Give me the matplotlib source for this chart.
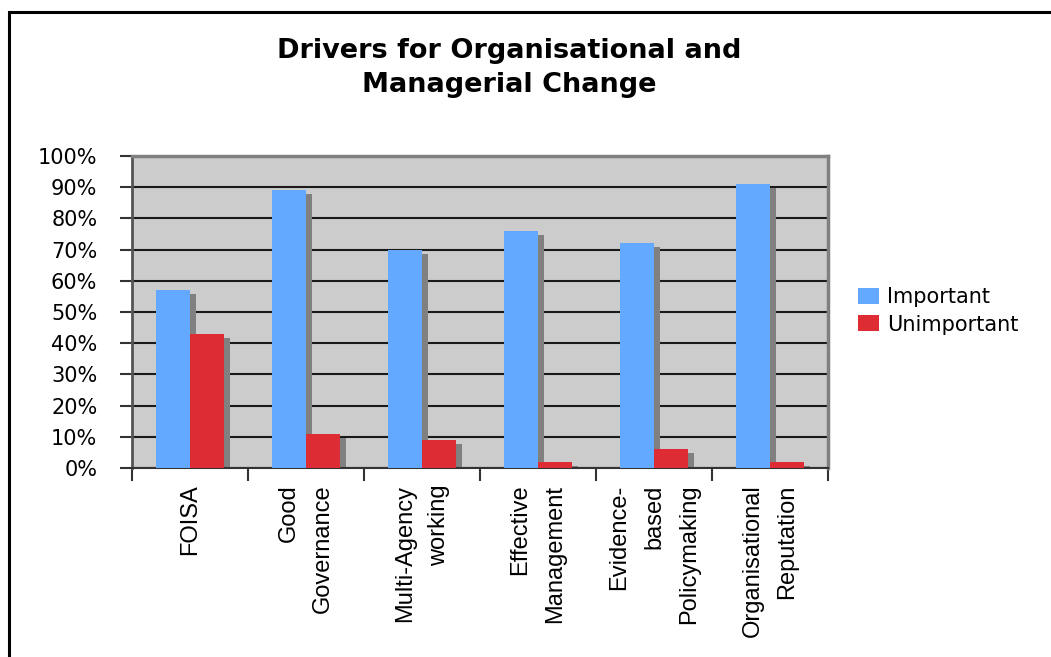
import matplotlib.pyplot as plt
from matplotlib.patches import Rectangle

# Survey results (% of respondents)
categories = ["FOISA", "Good\nGovernance", "Multi-Agency\nworking", "Effective\nManagement",
              "Evidence-\nbased\nPolicymaking", "Organisational\nReputation"]
important = [57, 89, 70, 76, 72, 91]
unimportant = [43, 11, 9, 2, 6, 2]

blue = "#63A9FF"
red = "#DD2C33"
shadow = "#808080"

fig = plt.figure(figsize=(10.51, 6.57), dpi=100)
ax = fig.add_axes([132 / 1051, 1 - 468 / 657, 696 / 1051, 312 / 657])
ax.set_facecolor("#CCCCCC")

w = 34 / 116
dx = 6 / 116
dy = 4 / 312 * 100
centers = [i + 0.5 for i in range(len(categories))]

# drop shadows (offset right and down)
ax.bar([c - w + dx for c in centers], [max(v - dy, 0) for v in important], width=w,
       align="edge", color=shadow, zorder=2)
ax.bar([c + dx for c in centers], [max(v - dy, 0) for v in unimportant], width=w,
       align="edge", color=shadow, zorder=2)

ax.bar([c - w for c in centers], important, width=w, align="edge", color=blue,
       zorder=3, label="Important")
ax.bar(centers, unimportant, width=w, align="edge", color=red,
       zorder=4, label="Unimportant")

ax.set_xlim(0, 6)
ax.set_ylim(0, 100)
ax.set_yticks(range(0, 101, 10))
ax.set_yticklabels([f"{v}%" for v in range(0, 101, 10)], fontsize=15)
ax.yaxis.grid(True, color="#1a1a1a", lw=1.5, zorder=1)
ax.set_axisbelow(True)

ax.set_xticks(range(0, 7))
ax.set_xticklabels([])
ax.set_xticks(centers, minor=True)
ax.set_xticklabels(categories, minor=True, rotation=90, fontsize=17,
                   family="Liberation Sans", va="top", ha="center",
                   multialignment="right", linespacing=1.75)
ax.tick_params(axis="x", which="minor", length=0, pad=12)
ax.tick_params(axis="x", which="major", length=9, width=1.5, color="#333333")
ax.tick_params(axis="y", length=9, width=1.5, color="#333333", pad=16)

for s in ["top", "right"]:
    ax.spines[s].set_color("#808080")
    ax.spines[s].set_linewidth(2.5)
ax.spines["left"].set_color("#555555")
ax.spines["left"].set_linewidth(2)
ax.spines["bottom"].set_color("#333333")
ax.spines["bottom"].set_linewidth(1.5)

fig.legend(loc="center left", bbox_to_anchor=(839 / 1051, 1 - 311 / 657), frameon=False,
           fontsize=15, handlelength=1.0, handleheight=0.8, handletextpad=0.4,
           labelspacing=0.35)

fig.text(509 / 1051, 1 - 68 / 657, "Drivers for Organisational and\nManagerial Change",
         ha="center", va="center", fontsize=19.5, fontweight="bold", linespacing=1.45)

fig.add_artist(Rectangle((9 / 1051, -0.1), 1.2, 1 - 12 / 657 + 0.1,
                         transform=fig.transFigure, fill=False, lw=2.2, color="black"))

fig.savefig("out.png", dpi=100)
